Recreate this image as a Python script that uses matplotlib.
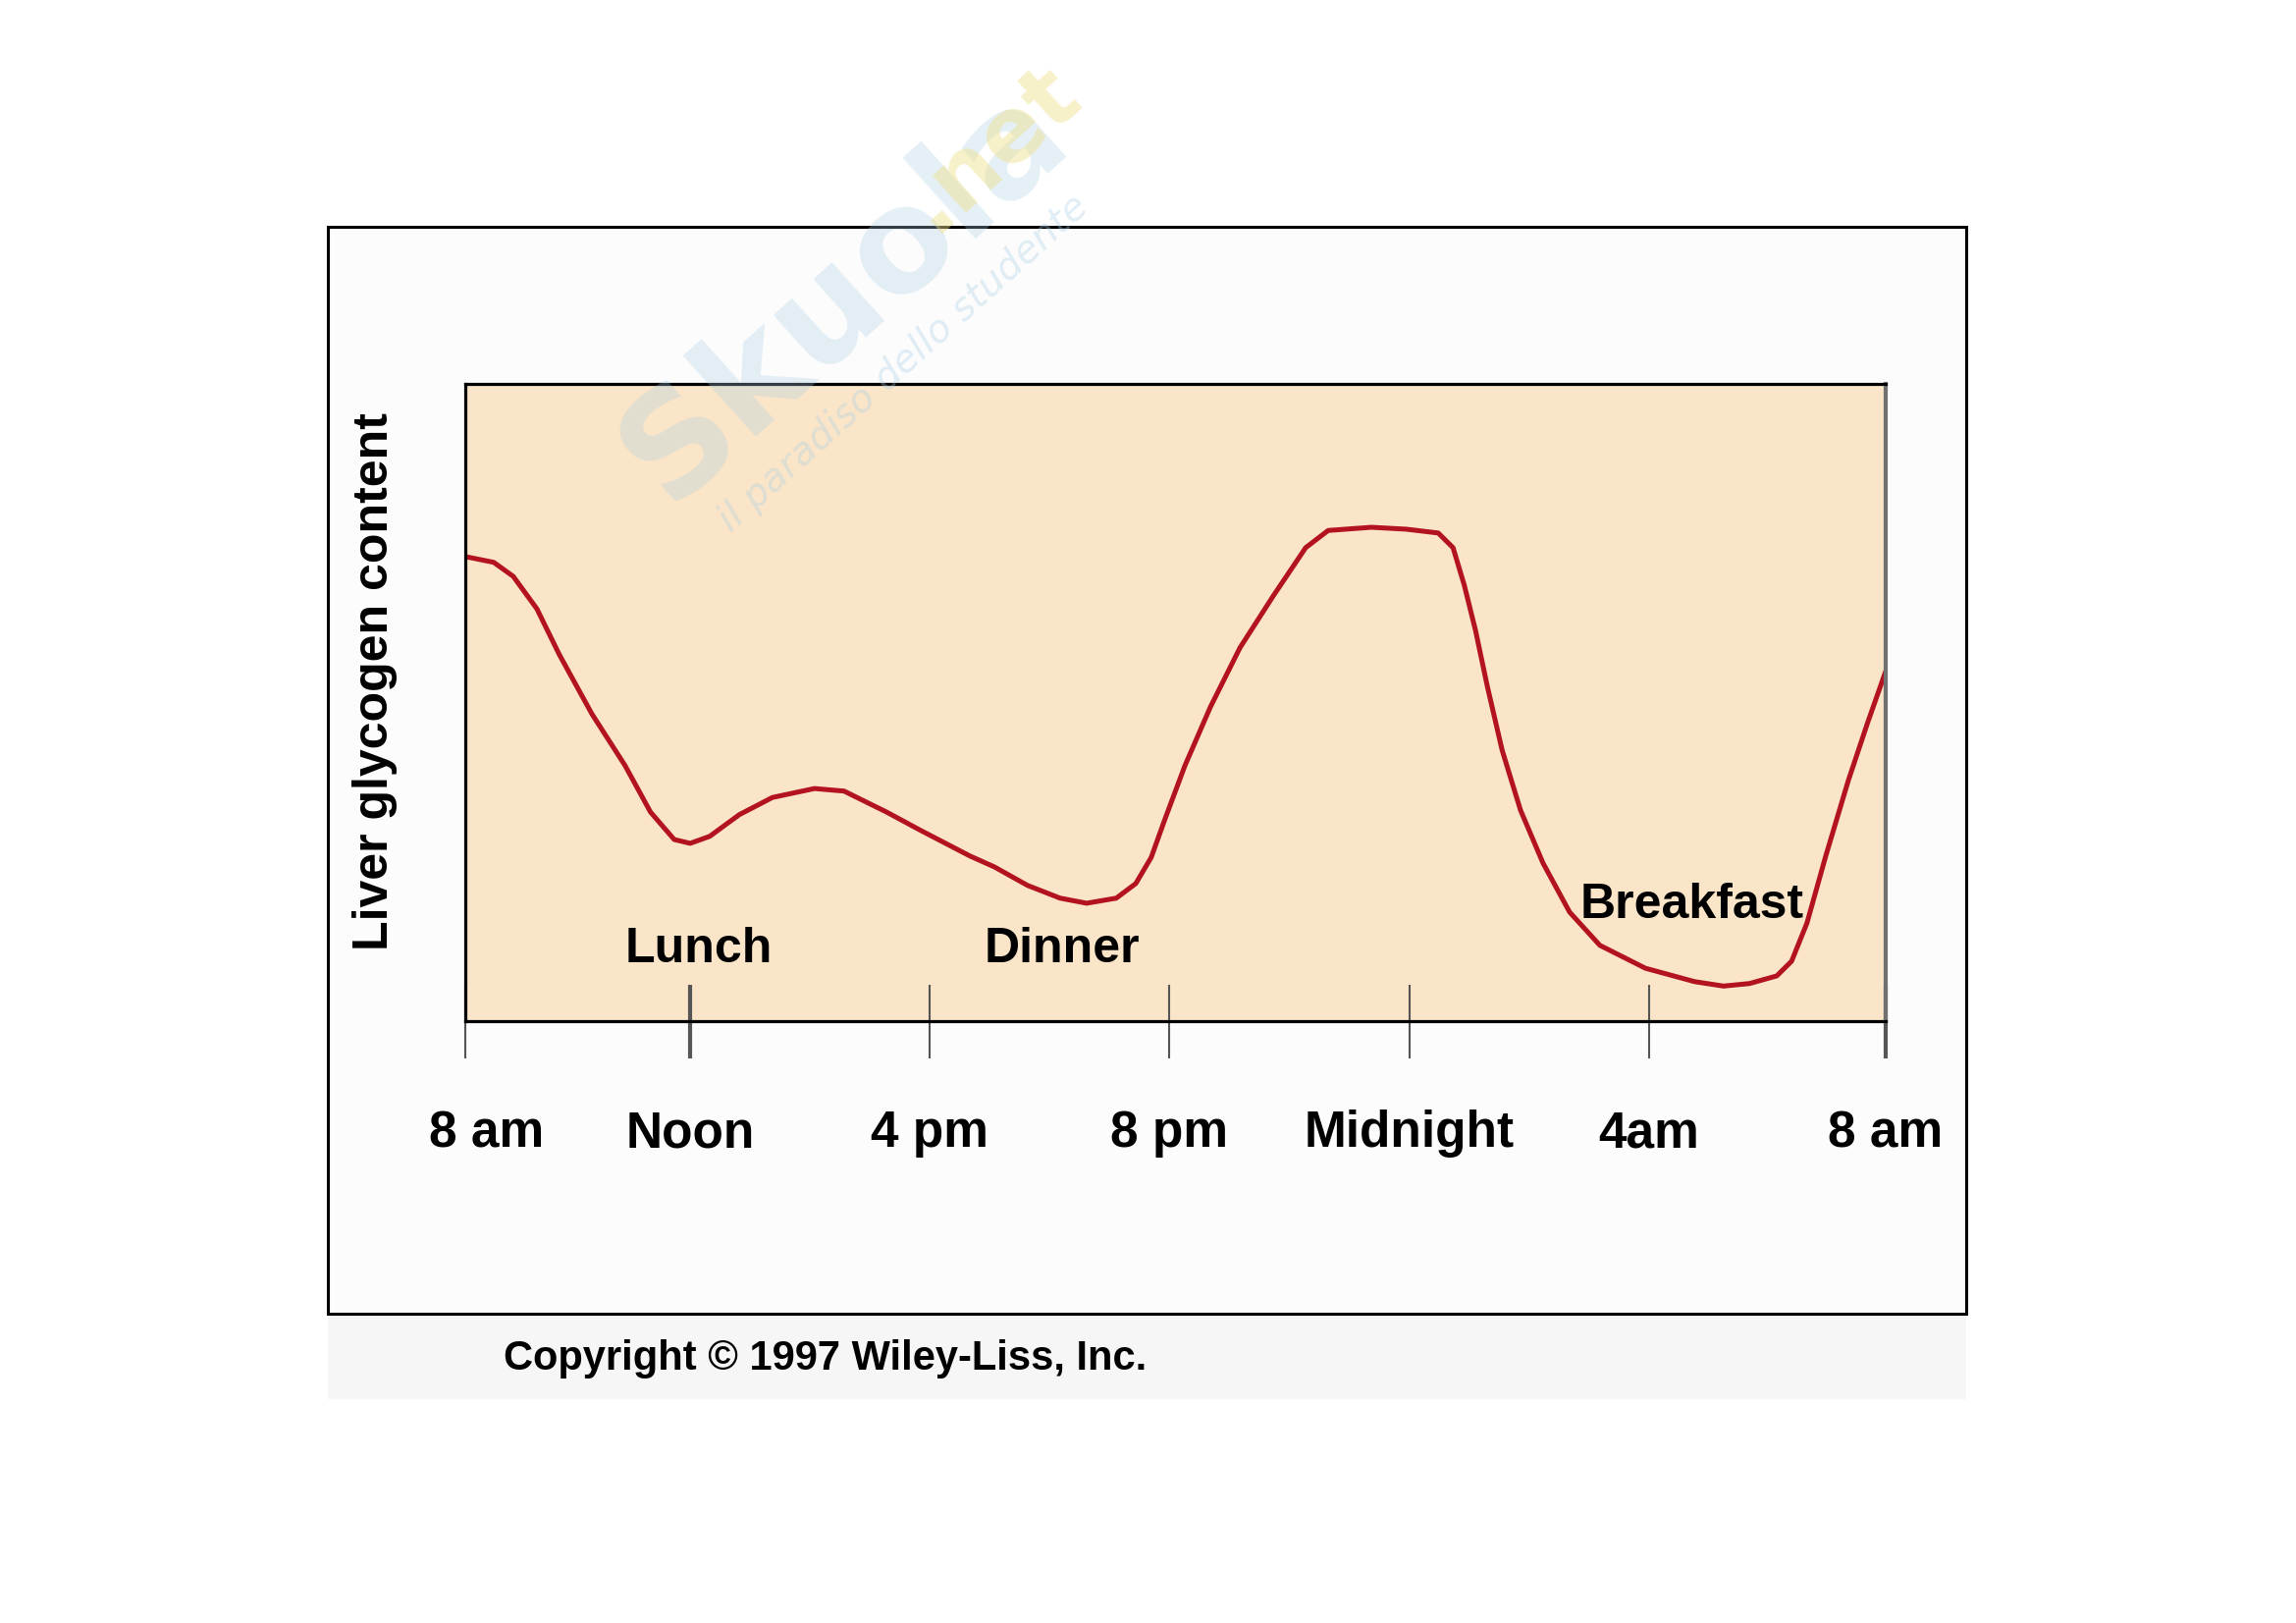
import matplotlib.pyplot as plt
from matplotlib.patches import Rectangle
from matplotlib.transforms import ScaledTranslation

# hours after 8 am, liver glycogen (relative units, 0 = bottom of panel, 100 = top)
hours = [0.0, 0.48, 0.81, 1.21, 1.59, 2.14, 2.70, 3.13, 3.53, 3.80, 4.13, 4.63,
         5.19, 5.90, 6.40, 7.12, 7.68, 8.53, 8.94, 9.50, 10.05, 10.50, 11.00,
         11.33, 11.59, 11.83, 12.16, 12.59, 13.09, 13.65, 14.20, 14.58, 15.31,
         15.90, 16.44, 16.69, 16.88, 17.07, 17.27, 17.52, 17.83, 18.21, 18.66,
         19.17, 19.94, 20.77, 21.26, 21.70, 22.16, 22.41, 22.67, 22.99, 23.37,
         23.69, 24.0]
glycogen = [72.9, 72.0, 69.8, 64.7, 57.5, 48.2, 40.1, 32.8, 28.5, 27.9, 29.0, 32.4,
            35.1, 36.5, 36.1, 32.8, 30.0, 25.9, 24.2, 21.3, 19.3, 18.5, 19.3,
            21.6, 25.7, 31.9, 40.1, 49.3, 58.6, 66.7, 74.3, 77.0, 77.5,
            77.2, 76.6, 74.3, 68.4, 61.3, 52.5, 42.5, 33.1, 24.8, 17.1,
            11.9, 8.3, 6.2, 5.5, 5.9, 7.1, 9.4, 15.4, 26.0, 37.8,
            46.7, 54.9]

tick_hours = [0, 3.8, 7.85, 11.9, 15.95, 20, 24]
tick_labels = ['8 am', 'Noon', '4 pm', '8 pm', 'Midnight', '4am', '8 am']

meals = ['Lunch', 'Dinner', 'Breakfast']
meal_x = [3.95, 10.08, 20.72]
meal_y = [9.2, 9.2, 16.2]

W, H = 2339, 1653
fig = plt.figure(figsize=(W / 100, H / 100), dpi=100)
fig.patch.set_facecolor('white')

# outer frame and grey caption band
fig.patches.append(Rectangle((334 / W, 1 - 1425 / H), 1669 / W, 87 / H,
                             transform=fig.transFigure, facecolor='#f6f6f6',
                             edgecolor='none', zorder=0))
fig.patches.append(Rectangle((334 / W, 1 - 1338 / H), 1669 / W, 1107 / H,
                             transform=fig.transFigure, facecolor='#fcfcfc',
                             edgecolor='black', linewidth=2.2, zorder=1))

ax = fig.add_axes([474 / W, 1 - 1040 / H, 1447 / W, 649 / H])
ax.set_zorder(2)
ax.set_facecolor('#fae5c8')
ax.plot(hours, glycogen, color='#b3121f', linewidth=3.6,
        solid_joinstyle='round', solid_capstyle='round')
ax.set_xlim(0, 24)
ax.set_ylim(0, 100)
ax.set_yticks([])

for side in ['top', 'left', 'bottom']:
    ax.spines[side].set_linewidth(2.3)
    ax.spines[side].set_color('black')
ax.spines['right'].set_linewidth(3)
ax.spines['right'].set_color('#707070')

ax.set_xticks(tick_hours)
ax.set_xticklabels(tick_labels, fontsize=37, fontweight='bold',
                   family=['Liberation Sans', 'DejaVu Sans'])
ax.tick_params(axis='x', direction='inout', length=54, width=1.5,
               color='#555555', pad=38)
ticks = ax.xaxis.get_major_ticks()
ticks[1].tick1line.set_color('#b0b0b0')
ticks[1].tick1line.set_markeredgewidth(3)
ticks[-1].tick1line.set_color('#c0c0c0')
ticks[-1].tick1line.set_markeredgewidth(3)
first = ax.get_xticklabels()[0]
first.set_transform(first.get_transform() + ScaledTranslation(0.22, 0, fig.dpi_scale_trans))

for name, mx, my in zip(meals, meal_x, meal_y):
    ax.text(mx, my, name, ha='center', va='baseline', fontsize=36,
            fontweight='bold', family=['Liberation Sans', 'DejaVu Sans'])

fig.text(382 / W, 1 - 694 / H, 'Liver glycogen content', rotation=90,
         ha='center', va='center', fontsize=36, fontweight='bold',
         family=['Liberation Sans', 'DejaVu Sans'])

fig.text(513 / W, 1 - 1395 / H, 'Copyright \u00a9 1997 Wiley-Liss, Inc.',
         ha='left', va='baseline', fontsize=30, fontweight='bold',
         family=['Liberation Sans', 'DejaVu Sans'])

# faint watermark
fig.text(860 / W, 1 - 300 / H, 'Skuola', rotation=42, ha='center', va='center',
         fontsize=105, fontweight='bold', color='#a9cfe4', alpha=0.3, zorder=20)
fig.text(1010 / W, 1 - 150 / H, '.net', rotation=42, ha='center', va='center',
         fontsize=66, fontweight='bold', color='#efe08a', alpha=0.45, zorder=20)
fig.text(920 / W, 1 - 370 / H, 'il paradiso dello studente', rotation=42,
         ha='center', va='center', fontsize=28, style='italic',
         color='#a9cfe4', alpha=0.35, zorder=20)

fig.savefig('out.png', dpi=100)
